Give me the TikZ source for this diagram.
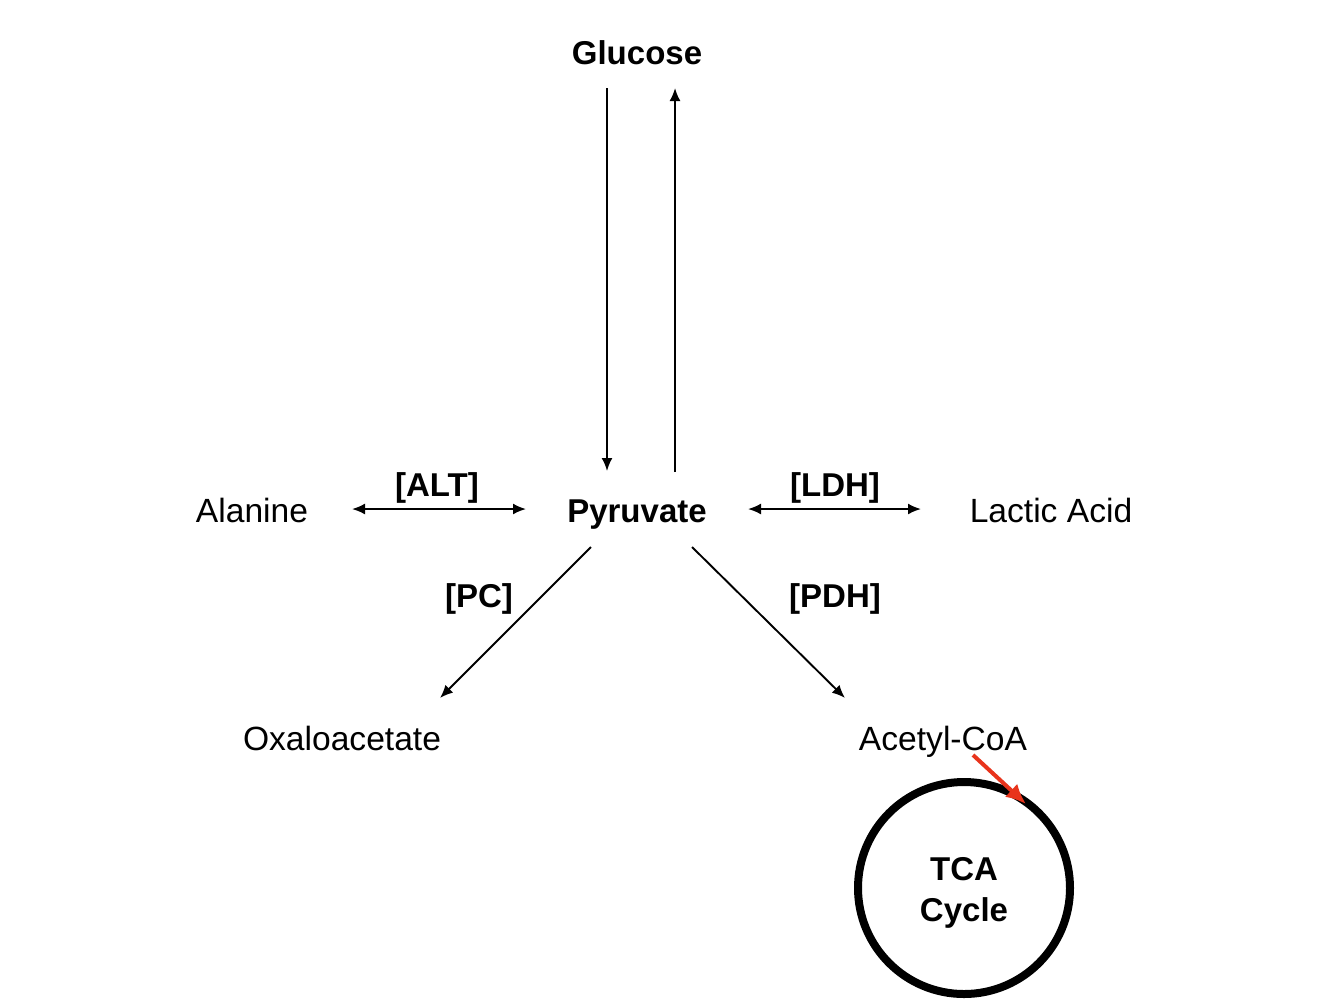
\documentclass[tikz,border=0pt]{standalone}
\usepackage{fontspec}
\setmainfont{Liberation Sans}
\usetikzlibrary{arrows.meta}
\begin{document}
\begin{tikzpicture}[x=0.5pt,y=-0.5pt,
  lbl/.style={font=\fontsize{16.8pt}{19pt}\selectfont, inner sep=0pt, anchor=base},
  blbl/.style={lbl, font=\fontsize{16.5pt}{19pt}\selectfont\bfseries},
  arr/.style={line width=0.95pt, -{Latex[length=6.5pt,width=5.5pt]}},
  darr/.style={line width=0.95pt, {Latex[length=6.5pt,width=5.5pt]}-{Latex[length=6.5pt,width=5.5pt]}},
  redarr/.style={line width=2pt, draw={rgb,255:red,232;green,52;blue,28}, -{Latex[length=10pt,width=9pt]}}]
\useasboundingbox (0,0) rectangle (1317,1003);
\node[blbl] (glu) at (637,64) {Glucose};
\node[blbl] (pyr) at (637,522) {Pyruvate};
\node[lbl] (ala) at (252,522) {Alanine};
\node[lbl] (lac) at (1051,522) {Lactic Acid};
\node[lbl] (oxa) at (342,750) {Oxaloacetate};
\node[lbl] (acc) at (943,750) {Acetyl-CoA};
\node[blbl] (alt) at (437,496) {[ALT]};
\node[blbl] (ldh) at (835,496) {[LDH]};
\node[blbl] (pc) at (479,607) {[PC]};
\node[blbl] (pdh) at (835,607) {[PDH]};
\node[draw, circle, line width=4pt, minimum size=106pt, inner sep=0pt] (tca) at (964,888) {};
\node[blbl] (tcat) at (964,880) {TCA};
\node[blbl] (cyc) at (964,921) {Cycle};
\coordinate (g1) at (607,88); \coordinate (p1) at (607,471);
\coordinate (p2) at (675,472); \coordinate (g2) at (675,88);
\coordinate (a1) at (352,509); \coordinate (a2) at (526,509);
\coordinate (l1) at (748,509); \coordinate (l2) at (921,509);
\coordinate (c1) at (591,547); \coordinate (c2) at (440,698);
\coordinate (d1) at (692,547); \coordinate (d2) at (845,698);
\coordinate (r1) at (973,755); \coordinate (r2) at (1026,804);
\draw[arr] (g1) -- (p1);
\draw[arr] (p2) -- (g2);
\draw[darr] (a1) -- (a2);
\draw[darr] (l1) -- (l2);
\draw[arr] (c1) -- (c2);
\draw[arr] (d1) -- (d2);
\draw[redarr] (r1) -- (r2);
\end{tikzpicture}
\end{document}
